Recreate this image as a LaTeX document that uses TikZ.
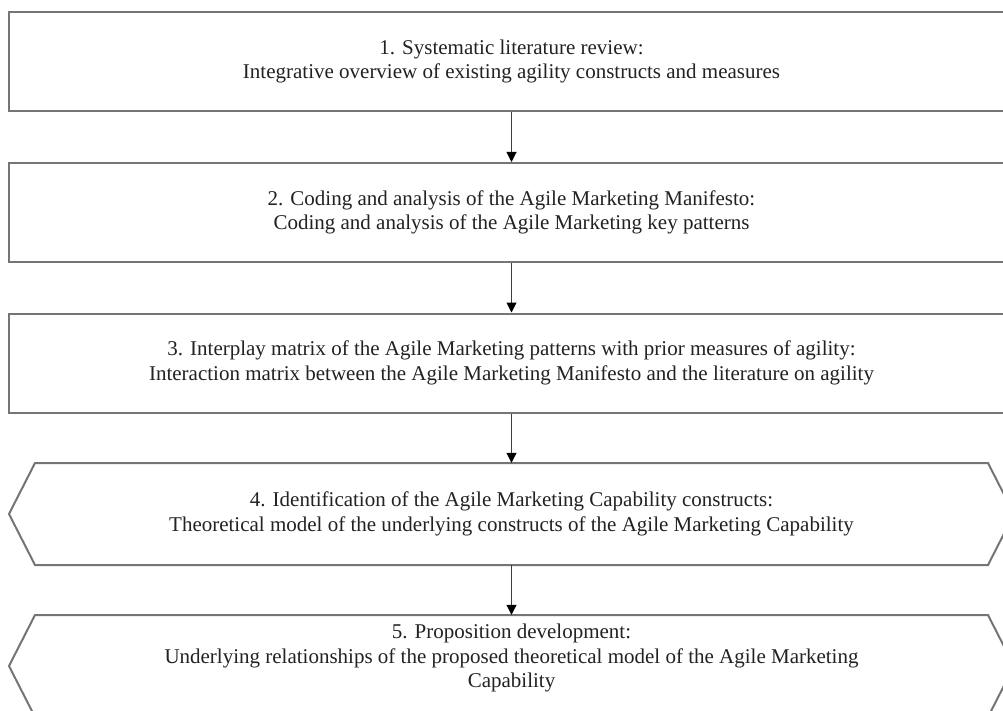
\documentclass[tikz,border=0pt]{standalone}
\usepackage{fontspec}
\setmainfont{Liberation Serif}
\usetikzlibrary{arrows.meta}
\definecolor{boxline}{HTML}{757575}
\definecolor{txt}{HTML}{222222}
\tikzset{
  stagebox/.style={draw=boxline, line width=2pt, minimum width=1005pt, minimum height=99pt, inner sep=0pt, align=center, text=txt, font=\fontsize{21}{24.5}\selectfont},
  hextext/.style={minimum width=1005pt, minimum height=102pt, inner sep=0pt, align=center, text=txt, font=\fontsize{21}{24.5}\selectfont},
  hexline/.style={draw=boxline, line width=2pt},
  flow/.style={draw=black!75, line width=1pt, -{Triangle[width=10pt,length=10pt,fill=black,color=black]}}
}
\begin{document}
\begin{tikzpicture}[x=1pt,y=-1pt]
\useasboundingbox (0,0) rectangle (1003,711);
\clip (0,0) rectangle (1003,711);
\fill[white] (0,0) rectangle (1003,711);
\node[stagebox] (b1) at (511.5,61.5) {1. Systematic literature review:\\Integrative overview of existing agility constructs and measures};
\node[stagebox] (b2) at (511.5,212.5) {2. Coding and analysis of the Agile Marketing Manifesto:\\Coding and analysis of the Agile Marketing key patterns};
\node[stagebox] (b3) at (511.5,363) {3. Interplay matrix of the Agile Marketing patterns with prior measures of agility:\\Interaction matrix between the Agile Marketing Manifesto and the literature on agility};
\node[hextext] (h4) at (511.5,514) {4. Identification of the Agile Marketing Capability constructs:\\Theoretical model of the underlying constructs of the Agile Marketing Capability};
\node[hextext] (h5) at (511.5,666) {};
\node[text=txt, align=center, font=\fontsize{21}{24.5}\selectfont, inner sep=0pt] (h5t) at (511.5,658) {5. Proposition development:\\Underlying relationships of the proposed theoretical model of the Agile Marketing\\Capability};
\draw[hexline] (9,514) -- (35,463) -- (988,463) -- (1014,514) -- (988,565) -- (35,565) -- cycle;
\draw[hexline] (9,666) -- (35,615) -- (988,615) -- (1014,666) -- (988,717) -- (35,717) -- cycle;
\draw[flow] (b1.south) -- (b2.north);
\draw[flow] (b2.south) -- (b3.north);
\draw[flow] (b3.south) -- (h4.north);
\draw[flow] (h4.south) -- (h5.north);
\end{tikzpicture}
\end{document}
